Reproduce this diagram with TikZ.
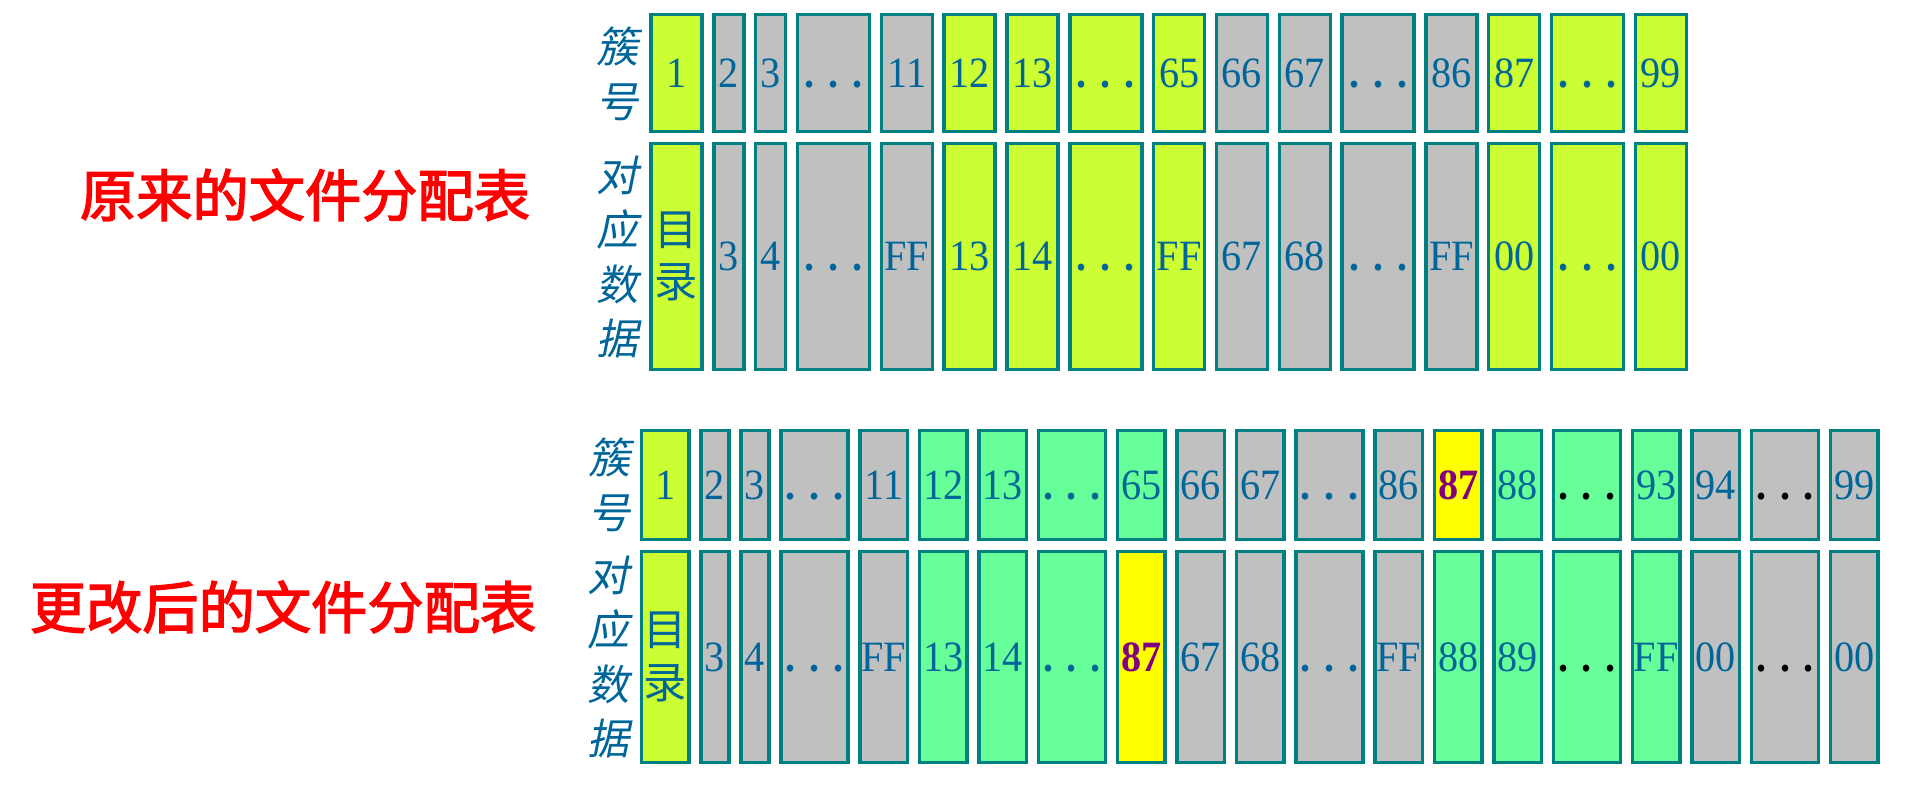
\documentclass[tikz,border=0pt]{standalone}
\usepackage{fontspec}
\setmainfont{Liberation Serif}[FakeStretch=0.93]
\newfontfamily\cjk{Noto Sans CJK SC}
\newfontfamily\cjkhead{Noto Sans CJK SC}[FakeBold=2.5]
\newfontfamily\cjkslant{Noto Sans CJK SC}[FakeSlant=0.2]
\newcommand{\gapdots}{\vphantom{0}\textbf{.\kern0.32em.\kern0.32em.}}
\definecolor{cellline}{RGB}{0,128,128}
\definecolor{cgray}{RGB}{192,192,192}
\definecolor{clime}{RGB}{204,255,51}
\definecolor{cgreen}{RGB}{102,255,153}
\definecolor{cyel}{RGB}{255,255,0}
\definecolor{numblue}{RGB}{0,102,153}
\definecolor{numpurple}{RGB}{128,0,128}

\begin{document}
\begin{tikzpicture}[x=0.01cm, y=-0.01cm,
    cell/.style={draw=cellline, line width=0.95pt, inner sep=0pt, align=center, text=numblue, font=\fontsize{12.3}{15}\selectfont},
    side/.style={align=center, text=numblue, font=\cjkslant\fontsize{12}{15.5}\selectfont},
    heading/.style={text=red, font=\cjkhead\fontsize{16}{18}\selectfont}
]
\useasboundingbox (0,0) rectangle (1922,789);

% original table
\node[heading] (oldtitle) at (305,195) {原来的文件分配表};
\node[side] (oldclu) at (618,74) {簇\\号};
\node[side] (olddat) at (618,257) {对\\应\\数\\据};
\foreach \w/\fa/\ta/\fb/\tb [count=\i, remember=\rx as \lx (initially 649.5), evaluate=\w as \rx using \lx+\w+8.83] in {
    54/clime/1/clime/{{\cjk 目}\\{\cjk 录}}, 33/cgray/2/cgray/3, 33/cgray/3/cgray/4, 75/cgray/\gapdots/cgray/\gapdots,
    54/cgray/11/cgray/FF, 54/clime/12/clime/13, 54/clime/13/clime/14, 75/clime/\gapdots/clime/\gapdots,
    54/clime/65/clime/FF, 54/cgray/66/cgray/67, 54/cgray/67/cgray/68, 75/cgray/\gapdots/cgray/\gapdots,
    54/cgray/86/cgray/FF, 54/clime/87/clime/00, 75/clime/\gapdots/clime/\gapdots, 54/clime/99/clime/00}{
  \node[cell, fill=\fa, minimum width={(\w-3)*0.01cm}, minimum height=1.17cm] (old1-\i) at ({\lx+\w/2},73) {\ta};
  \node[cell, fill=\fb, minimum width={(\w-3)*0.01cm}, minimum height=2.26cm] (old2-\i) at ({\lx+\w/2},256.5) {\tb};
}

% changed table
\node[heading] (newtitle) at (283,607) {更改后的文件分配表};
\node[side] (newclu) at (610,485) {簇\\号};
\node[side] (newdat) at (609,657) {对\\应\\数\\据};
\foreach \w/\fa/\ta/\fb/\tb [count=\i, remember=\rx as \lx (initially 640), evaluate=\w as \rx using \lx+\w+9] in {
    50.5/clime/1/clime/{{\cjk 目}\\{\cjk 录}}, 31/cgray/2/cgray/3, 31/cgray/3/cgray/4, 70/cgray/\gapdots/cgray/\gapdots,
    50.5/cgray/11/cgray/FF, 50.5/cgreen/12/cgreen/13, 50.5/cgreen/13/cgreen/14, 70/cgreen/\gapdots/cgreen/\gapdots,
    50.5/cgreen/65/cyel/{\color{numpurple}\bfseries 87}, 50.5/cgray/66/cgray/67, 50.5/cgray/67/cgray/68, 70/cgray/\gapdots/cgray/\gapdots,
    50.5/cgray/86/cgray/FF, 50.5/cyel/{\color{numpurple}\bfseries 87}/cgreen/88, 50.5/cgreen/88/cgreen/89,
    70/cgreen/{\color{black}\gapdots}/cgreen/{\color{black}\gapdots}, 50.5/cgreen/93/cgreen/FF, 50.5/cgray/94/cgray/00,
    70/cgray/{\color{black}\gapdots}/cgray/{\color{black}\gapdots}, 50.5/cgray/99/cgray/00}{
  \node[cell, fill=\fa, minimum width={(\w-3)*0.01cm}, minimum height=1.09cm] (new1-\i) at ({\lx+\w/2},485) {\ta};
  \node[cell, fill=\fb, minimum width={(\w-3)*0.01cm}, minimum height=2.11cm] (new2-\i) at ({\lx+\w/2},657) {\tb};
}
\end{tikzpicture}
\end{document}
